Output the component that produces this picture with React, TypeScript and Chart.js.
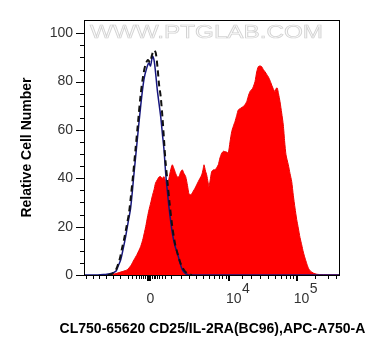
import React, { useEffect, useRef } from 'react';
import { Chart, registerables } from 'chart.js';

Chart.register(...registerables);

// x values are display channels (0..256) on the biexponential axis
const redChannel = [16, 26, 31, 35, 39, 43.3, 47, 50, 53, 56.7, 59, 61.7, 63.5, 65, 66.7, 68.5, 70, 71.5, 73.3, 75, 76.7, 78.5, 80, 81.5, 83.3, 85, 86.7, 88.3, 90, 91.7, 93.5, 95, 96.5, 98.3, 100, 101.7, 103.5, 105, 107, 109, 111, 114.3, 117.7, 119, 120, 121.5, 122.7, 124, 125, 126.5, 127.7, 129.5, 131, 132.8, 134.3, 136, 137.7, 139.5, 141, 143, 144.3, 146, 147.7, 149.3, 151, 152.7, 154.3, 156.7, 159.3, 161, 162.7, 164.3, 166, 168.7, 171, 172.7, 174.3, 176, 177.7, 179.3, 181, 182.7, 184.3, 186, 187.7, 189.3, 191, 192.3, 193.3, 194.5, 196, 197.7, 199.3, 200.7, 202, 204.3, 206, 207.7, 209.3, 211, 212.7, 214.3, 216, 217.7, 219.3, 221, 222.7, 224.3, 226.5, 229.3, 233, 238, 246, 256];
const redCount = [0, 0.2, 0.5, 1, 1.5, 2.2, 4, 6.3, 8.5, 11.8, 15, 20, 24, 27, 29.8, 33, 35.2, 38, 39.4, 40.5, 40.7, 40, 40.7, 39, 36.6, 40, 43.5, 45.6, 44, 42, 40.5, 40.7, 42.5, 43.5, 42, 40.7, 37, 33.5, 33.2, 34.5, 35.9, 38.7, 41.4, 43.5, 45.6, 43, 41.4, 38.5, 36.6, 40, 42.8, 43.5, 43.5, 44.5, 45.6, 48.5, 50.4, 51.2, 51, 50.8, 50.4, 55, 59.3, 61.5, 63.5, 66, 68.3, 69, 69.7, 70.5, 71.7, 74, 75.9, 77.3, 80, 84, 86.2, 86.5, 86.2, 85, 84.1, 83, 82, 80.5, 78.6, 77, 75.9, 77.3, 77.3, 75, 71.7, 67, 62.1, 55, 49.7, 45.6, 42, 38.7, 33, 27.7, 23, 19.4, 15.5, 12.5, 9.5, 7, 4.8, 2.9, 1.6, 0.8, 0.3, 0.15, 0.1, 0.1];

const blueChannel = [0, 14, 20, 26, 31.7, 34, 36.7, 39, 41.7, 44, 46.7, 50, 53.3, 56.7, 60, 63, 65, 66.5, 68.5, 70, 71.5, 73.3, 75, 76.7, 78.5, 80, 81.7, 83.3, 85, 88.3, 91, 93.3, 96, 98.3, 101, 104, 111, 256];
const blueCount = [0, 0, 0.2, 0.5, 1.5, 3.5, 6.3, 10.5, 16, 21.5, 28, 42, 56, 70, 81, 86, 87.7, 86.5, 90.5, 89, 84, 76.6, 71, 65.5, 58, 51.8, 42, 35, 28, 17.4, 12, 9.2, 5, 2.2, 0.7, 0.1, 0, 0];

const dashChannel = [24, 28, 31, 33.3, 36, 38, 40, 42.5, 45, 47, 49, 51.5, 54, 56.5, 59, 61.5, 64, 66, 68, 70, 71.7, 73.5, 75, 76.7, 78.5, 80, 81.5, 83.3, 85.5, 88.3, 91, 93.3, 96, 98.5, 101, 104, 108];
const dashCount = [0, 0.5, 1.5, 3.5, 7, 11, 14.6, 20, 25.7, 33, 41, 52, 63, 74, 82, 87, 89, 88, 91, 93, 92, 86, 79, 73.8, 65, 56, 47, 39.4, 30, 20, 13, 9.2, 5.5, 3, 1.5, 0.5, 0];

const yTickValues = [0, 20, 40, 60, 80, 100];
const yMinorValues = [5, 10, 15, 25, 30, 35, 45, 50, 55, 65, 70, 75, 85, 90, 95];
const xMajorTicks = [66, 145, 212.7];
const xMajorLabels = [['0', ''], ['10', '4'], ['10', '5']];
const xMinorTicks = [2, 8.5, 15, 22, 29, 35.5, 44, 48, 52, 55, 57, 59, 61, 62.5, 64, 68, 69.5, 71, 73, 75, 77.5, 81, 87, 96.5, 104.5, 112, 119, 125, 130, 134.5, 138, 141.5, 157.5, 167, 176, 184, 191, 196.7, 201.7, 205.7, 209.4, 231, 243.5, 251.5];
const xTitle = 'CL750-65620 CD25/IL-2RA(BC96),APC-A750-A';
const yTitle = 'Relative Cell Number';

const FONT = '"Liberation Sans", Arial, sans-serif';

export default function App() {
  const ref = useRef<HTMLCanvasElement>(null);

  useEffect(() => {
    const canvas = ref.current!;
    const toPts = (xs: number[], ys: number[]) => xs.map((x, i) => ({ x, y: ys[i] }));

    const decor = {
      id: 'decor',
      beforeDatasetsDraw(chart: any) {
        const ctx = chart.ctx;
        const text = 'WWW.PTGLAB.COM';
        ctx.save();
        ctx.font = `18px ${FONT}`;
        const w = ctx.measureText(text).width;
        const sx = 233 / w;
        ctx.translate(90, 38);
        ctx.scale(sx, 1);
        ctx.textBaseline = 'alphabetic';
        ctx.fillStyle = '#fbfbfb';
        ctx.fillText(text, 0, 0);
        ctx.strokeStyle = '#d2d2d2';
        ctx.lineWidth = 0.7;
        ctx.strokeText(text, 0, 0);
        ctx.restore();
      },
      afterDraw(chart: any) {
        const ctx = chart.ctx;
        const { left, right, top, bottom } = chart.chartArea;
        const xs = chart.scales.x;
        const ys = chart.scales.y;
        ctx.save();
        ctx.strokeStyle = '#000';
        ctx.lineWidth = 1;
        ctx.strokeRect(left + 0.5, top + 0.5, right - left - 1, bottom - top);
        // y ticks
        ctx.beginPath();
        yTickValues.forEach((v) => {
          const y = Math.round(ys.getPixelForValue(v)) + 0.5;
          ctx.moveTo(left - 8, y);
          ctx.lineTo(left, y);
        });
        yMinorValues.forEach((v) => {
          const y = Math.round(ys.getPixelForValue(v)) + 0.5;
          ctx.moveTo(left - 4, y);
          ctx.lineTo(left, y);
        });
        ctx.stroke();
        // x minor ticks
        ctx.beginPath();
        xMinorTicks.forEach((v) => {
          const x = Math.round(xs.getPixelForValue(v)) + 0.5;
          ctx.moveTo(x, bottom);
          ctx.lineTo(x, bottom + 4);
        });
        ctx.stroke();
        // x major ticks
        ctx.lineWidth = 2;
        ctx.beginPath();
        xMajorTicks.forEach((v) => {
          const x = Math.round(xs.getPixelForValue(v));
          ctx.moveTo(x, bottom);
          ctx.lineTo(x, bottom + 6);
        });
        ctx.stroke();
        ctx.fillRect(Math.round(xs.getPixelForValue(66)) - 3, bottom, 4, 6);
        // x labels
        ctx.fillStyle = '#333';
        ctx.textBaseline = 'alphabetic';
        xMajorTicks.forEach((v, i) => {
          const x = xs.getPixelForValue(v);
          const [base, sup] = xMajorLabels[i];
          ctx.font = `14px ${FONT}`;
          if (!sup) {
            ctx.textAlign = 'center';
            ctx.fillText(base, x + 0.5, 303);
          } else {
            ctx.textAlign = 'left';
            const bx = x - 3;
            ctx.fillText(base, bx, 303);
            const bw = ctx.measureText(base).width;
            ctx.fillText(sup, bx + bw + 0.5, 293);
          }
        });
        // x title
        ctx.fillStyle = '#000';
        ctx.font = `bold 14px ${FONT}`;
        ctx.textAlign = 'center';
        ctx.textBaseline = 'middle';
        ctx.fillText(xTitle, 212.5, 329);
        ctx.restore();
      },
    };

    const chart = new Chart(canvas, {
      type: 'line',
      data: {
        datasets: [
          {
            label: 'dashed',
            data: toPts(dashChannel, dashCount),
            borderColor: '#111',
            borderWidth: 2,
            borderDash: [6, 4],
            pointRadius: 0,
            tension: 0.3,
            fill: false,
          },
          {
            label: 'blue',
            data: toPts(blueChannel, blueCount),
            borderColor: '#16167e',
            borderWidth: 1.5,
            pointRadius: 0,
            tension: 0.3,
            fill: false,
          },
          {
            label: 'red',
            data: toPts(redChannel, redCount),
            borderColor: '#ee0000',
            backgroundColor: '#ff0000',
            borderWidth: 1,
            pointRadius: 0,
            tension: 0.2,
            fill: 'origin',
          },
        ],
      },
      options: {
        responsive: false,
        animation: false,
        devicePixelRatio: 1,
        layout: { padding: { left: 0, right: 46, top: 20, bottom: 0 } },
        plugins: { legend: { display: false }, tooltip: { enabled: false } },
        scales: {
          x: {
            type: 'linear',
            min: 0,
            max: 256,
            afterFit: (s: any) => { s.height = 81; },
            grid: { display: false },
            border: { display: false },
            ticks: { display: false },
          },
          y: {
            type: 'linear',
            min: 0,
            max: 105.5,
            afterFit: (s: any) => { s.width = 84; },
            afterBuildTicks: (s: any) => { s.ticks = yTickValues.map((v) => ({ value: v })); },
            grid: { display: true, drawOnChartArea: false, drawTicks: true, tickLength: 8, color: 'rgba(0,0,0,0)' },
            border: { display: false },
            ticks: {
              padding: 3,
              color: '#333',
              font: { family: FONT, size: 14 },
              callback: (v: any) => String(v),
            },
            title: {
              display: true,
              text: yTitle,
              color: '#000',
              font: { family: FONT, size: 14, weight: 'bold', lineHeight: 1.2 },
              padding: { top: 19, bottom: 0 },
            },
          },
        },
      },
      plugins: [decor],
    });
    return () => chart.destroy();
  }, []);

  return (
    <div style={{ position: 'absolute', left: 0, top: 0, width: 386, height: 356, background: '#fff' }}>
      <canvas ref={ref} width={386} height={356} />
    </div>
  );
}
